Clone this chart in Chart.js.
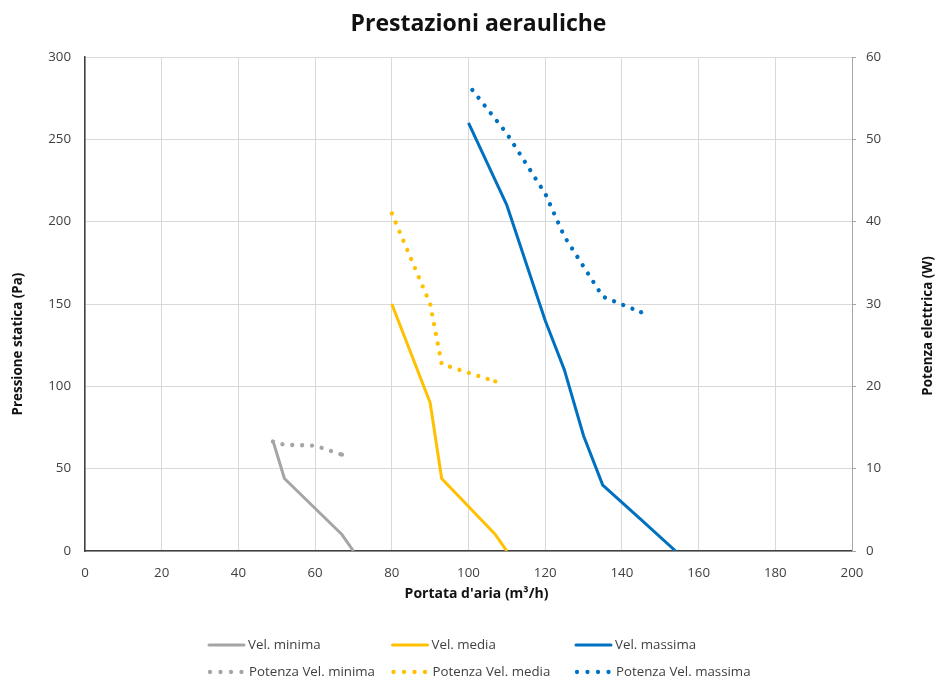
<!DOCTYPE html>
<html>
<head>
<meta charset="utf-8">
<script src="https://cdn.jsdelivr.net/npm/chart.js@4.4.1/dist/chart.umd.min.js"></script>
<style>
  html, body { margin: 0; padding: 0; background: #fff; overflow: hidden; }
  #wrap { position: relative; width: 938px; height: 682px; overflow: hidden; }
  canvas { display: block; }
</style>
</head>
<body>
<div id="wrap">
  <canvas id="c" width="938" height="682"></canvas>
</div>
<script>
// ---- data ----
const seriesNames = ['Vel. minima', 'Vel. media', 'Vel. massima'];
const powerNames = ['Potenza Vel. minima', 'Potenza Vel. media', 'Potenza Vel. massima'];

const minFlow = [49, 52, 67, 70];
const minPressure = [67, 44, 10, 0];
const medFlow = [80, 90, 93, 107, 110];
const medPressure = [150, 90, 44, 10, 0];
const maxFlow = [100, 110, 120, 125, 130, 135, 145, 154];
const maxPressure = [260, 210, 140, 110, 70, 40, 19, 0];

const minPowerFlow = [49, 52, 60, 67];
const minPower = [13.3, 12.9, 12.8, 11.7];
const medPowerFlow = [80, 90, 93, 107];
const medPower = [41, 30, 22.7, 20.6];
const maxPowerFlow = [101, 110, 120, 125, 135, 145];
const maxPower = [56, 50.7, 43.4, 38.2, 30.9, 29];

const xTicksMax = 200, xStep = 20;
const yMax = 300, yStep = 50;
const y2Max = 60, y2Step = 10;

const chartTitle = 'Prestazioni aerauliche';
const xTitle = "Portata d'aria (m³/h)";
const yTitle = 'Pressione statica (Pa)';
const y2Title = 'Potenza elettrica (W)';

const colors = ['#A5A5A5', '#FFC000', '#0070C0'];

function pts(xs, ys) { return xs.map((x, i) => ({ x: x, y: ys[i] })); }

const FONT = '"Open Sans", Lato, sans-serif';
const TXT = '#404040';
const TITLE_COLOR = '#111';
const DOT_DASH = [0.001, 9.9];

const solid = (label, data, color) => ({
  label, data, yAxisID: 'y', showLine: true, borderColor: color, backgroundColor: color,
  borderWidth: 3, pointRadius: 0, tension: 0, borderCapStyle: 'butt', borderJoinStyle: 'round', _kind: 'solid'
});
const dotted = (label, data, color) => ({
  label, data, yAxisID: 'y2', showLine: true, borderColor: color, backgroundColor: color,
  borderWidth: 4.3, tension: 0, borderCapStyle: 'round', borderDash: DOT_DASH, _kind: 'dot',
  pointBorderWidth: 0,
  // final round dot at the end of the dotted line, as in the reference
  pointRadius: (c) => (c.dataIndex === data.length - 1 ? 2.15 : 0)
});

const datasets = [
  solid(seriesNames[0], pts(minFlow, minPressure), colors[0]),
  solid(seriesNames[1], pts(medFlow, medPressure), colors[1]),
  solid(seriesNames[2], pts(maxFlow, maxPressure), colors[2]),
  dotted(powerNames[0], pts(minPowerFlow, minPower), colors[0]),
  dotted(powerNames[1], pts(medPowerFlow, medPower), colors[1]),
  dotted(powerNames[2], pts(maxPowerFlow, maxPower), colors[2])
];

// Chart title, axis titles and the 3x2 legend, placed like in the reference
const decorPlugin = {
  id: 'decor',
  afterDraw(chart) {
    const ctx = chart.ctx;
    ctx.save();
    ctx.fillStyle = TITLE_COLOR;
    ctx.textAlign = 'center';
    ctx.textBaseline = 'middle';
    ctx.font = 'bold 23px ' + FONT;
    ctx.fillText(chartTitle, 478.5, 24.5);
    ctx.font = 'bold 14px ' + FONT;
    ctx.fillText(xTitle, 476.5, 594);
    ctx.font = 'bold 13.4px ' + FONT;
    [{ text: yTitle, x: 18.5, y: 344 }, { text: y2Title, x: 928, y: 326 }].forEach(it => {
      ctx.save();
      ctx.translate(it.x, it.y);
      ctx.rotate(-Math.PI / 2);
      ctx.fillText(it.text, 0, 0);
      ctx.restore();
    });

    // legend
    const colX = [208, 391.5, 575];
    const rowY = [645, 672];
    ctx.font = '13.3px ' + FONT;
    ctx.textAlign = 'left';
    chart.data.datasets.forEach((ds, i) => {
      const row = ds._kind === 'solid' ? 0 : 1;
      const x0 = colX[i % 3];
      const y0 = rowY[row];
      ctx.save();
      ctx.strokeStyle = ds.borderColor;
      ctx.lineCap = 'round';
      ctx.beginPath();
      if (row === 0) {
        ctx.lineWidth = 3;
        ctx.moveTo(x0 + 1, y0);
        ctx.lineTo(x0 + 36, y0);
      } else {
        ctx.lineWidth = 4.3;
        ctx.setLineDash([0.001, 10.5]);
        ctx.moveTo(x0 + 2, y0);
        ctx.lineTo(x0 + 34, y0);
      }
      ctx.stroke();
      ctx.restore();
      ctx.fillStyle = TXT;
      ctx.fillText(ds.label, x0 + (row === 0 ? 40 : 41), y0);
    });
    ctx.restore();
  }
};

const chart = new Chart(document.getElementById('c'), {
  type: 'scatter',
  data: { datasets },
  plugins: [decorPlugin],
  options: {
    responsive: false,
    animation: false,
    layout: { padding: { left: 0, right: 0, top: 57, bottom: 76 } },
    plugins: {
      legend: { display: false },
      tooltip: { enabled: false },
      title: { display: false }
    },
    scales: {
      x: {
        type: 'linear', min: 0, max: xTicksMax,
        ticks: { stepSize: xStep, color: TXT, font: { family: FONT, size: 13.3 }, padding: 14 },
        grid: { color: '#D9D9D9', drawTicks: false, lineWidth: 1 },
        border: { color: '#404040', width: 1.5 },
        title: { display: false },
        afterFit(s) { s.height = 55; }
      },
      y: {
        position: 'left', min: 0, max: yMax,
        ticks: { stepSize: yStep, color: TXT, font: { family: FONT, size: 13.3 }, padding: 14 },
        grid: { color: '#D9D9D9', drawTicks: false, lineWidth: 1 },
        border: { color: '#404040', width: 1.5 },
        title: { display: false },
        afterFit(s) { s.width = 85; }
      },
      y2: {
        position: 'right', min: 0, max: y2Max,
        ticks: { stepSize: y2Step, color: TXT, font: { family: FONT, size: 13.3 }, padding: 10 },
        grid: { drawOnChartArea: false, drawTicks: true, tickLength: 4, color: '#A6A6A6' },
        border: { color: '#A6A6A6', width: 1 },
        title: { display: false },
        afterFit(s) { s.width = 86; }
      }
    }
  }
});
</script>
</body>
</html>
